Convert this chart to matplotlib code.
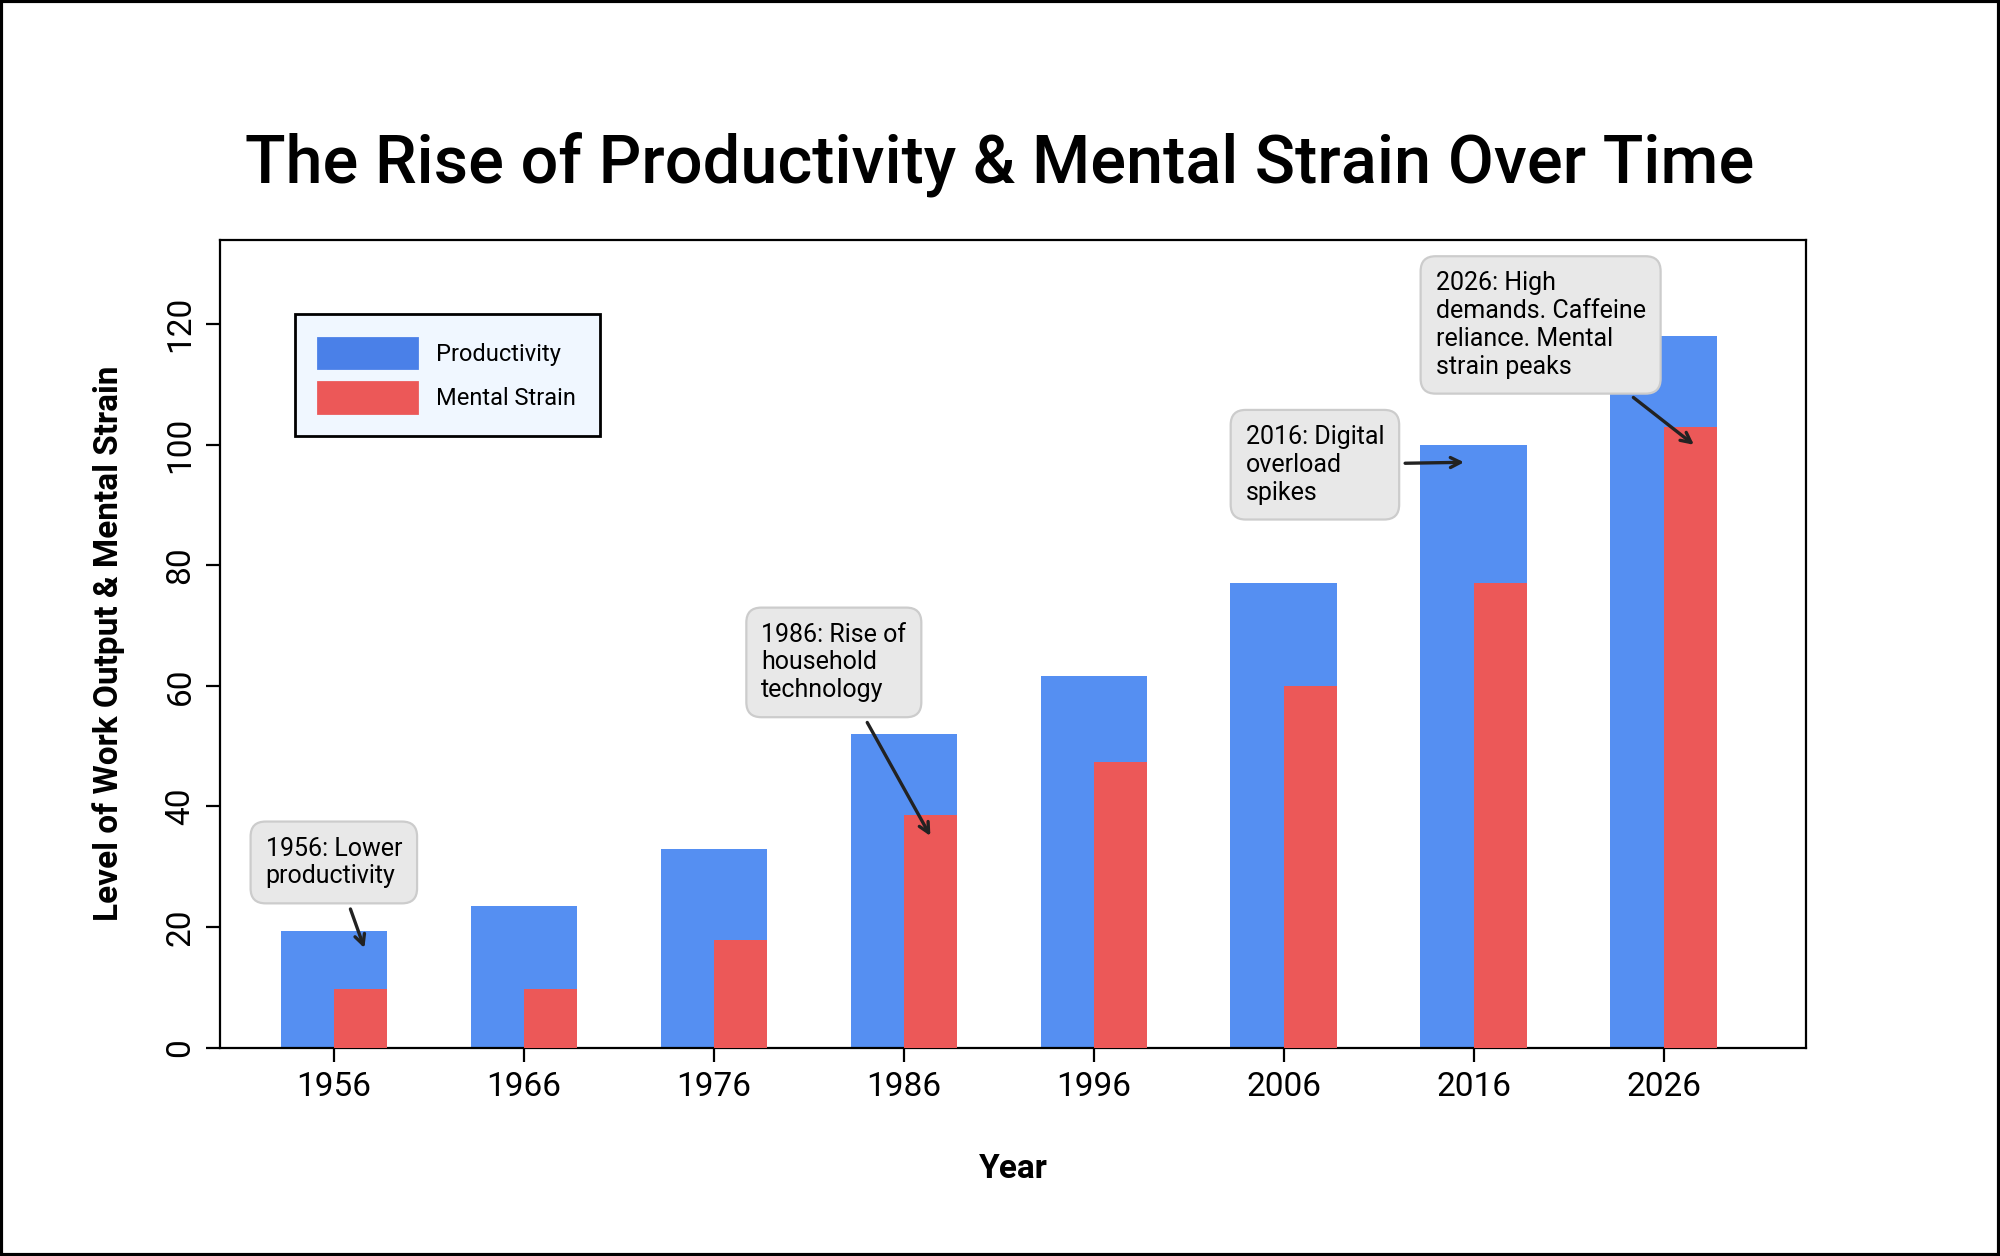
import matplotlib
matplotlib.use("Agg")
import matplotlib.pyplot as plt
from matplotlib.patches import Patch

years = [1956, 1966, 1976, 1986, 1996, 2006, 2016, 2026]
productivity = [19.3, 23.5, 33, 52, 61.6, 77, 100, 118]
strain = [9.7, 9.7, 17.8, 38.5, 47.4, 60, 77, 103]
notes = [
    ("1956: Lower\nproductivity", 1957.6, 16.5, 1952.4, 35.0),
    ("1986: Rise of\nhousehold\ntechnology", 1987.4, 35.1, 1978.5, 70.5),
    ("2016: Digital\noverload\nspikes", 2015.5, 97.1, 2004.0, 103.3),
    ("2026: High\ndemands. Caffeine\nreliance. Mental\nstrain peaks", 2027.6, 100.0, 2014.0, 128.8),
]

plt.rcParams['font.family'] = ['Roboto', 'DejaVu Sans']
fig = plt.figure(figsize=(10, 6.28), dpi=200)
ax = fig.add_axes([0.110, 0.166, 0.793, 0.643])

ax.bar(years, productivity, width=5.6, color='#558FF2', align='center', zorder=2)
ax.bar(years, strain, width=2.8, color='#EC5858', align='edge', zorder=3)

ax.set_xlim(1950, 2033.5)
ax.set_ylim(0, 134)
ax.set_xticks(years)
ax.set_xticklabels([str(y) for y in years], fontsize=12)
ax.set_yticks(range(0, 121, 20))
ax.set_yticklabels([str(v) for v in range(0, 121, 20)], fontsize=12, rotation=90, va='center')
ax.tick_params(axis='both', length=5)
ax.set_xlabel("Year", fontsize=12, fontweight='bold', labelpad=18)
ax.set_ylabel("Level of Work Output & Mental Strain", fontsize=12, fontweight='bold', labelpad=14)
fig.suptitle("The Rise of Productivity & Mental Strain Over Time", fontsize=24, fontweight='medium', y=0.895)

for text, x, y, tx, ty in notes:
    ax.annotate(text, xy=(x, y), xytext=(tx, ty), ha='left', va='top', fontsize=9, zorder=5,
                bbox=dict(boxstyle='round,pad=0.6', fc='#E8E8E8', ec='#CCCCCC', lw=0.8),
                arrowprops=dict(arrowstyle='->', color='#222222', lw=1.2, shrinkA=2, shrinkB=0))

handles = [Patch(color='#4A80E8', label='Productivity'), Patch(color='#EC5858', label='Mental Strain')]
leg = ax.legend(handles=handles, loc='upper left', bbox_to_anchor=(0.047, 0.908), fontsize=8.5,
                handlelength=4.2, handleheight=1.6, borderpad=1.0, labelspacing=0.6,
                fancybox=False, frameon=True, framealpha=1, borderaxespad=0)
leg.get_frame().set_facecolor('#F0F7FF')
leg.get_frame().set_edgecolor('black')

fig.patches.append(plt.Rectangle((0.0005, 0.0008), 0.999, 0.9984, transform=fig.transFigure,
                                 fill=False, ec='black', lw=1.5))
fig.savefig("out.png", dpi=200)
